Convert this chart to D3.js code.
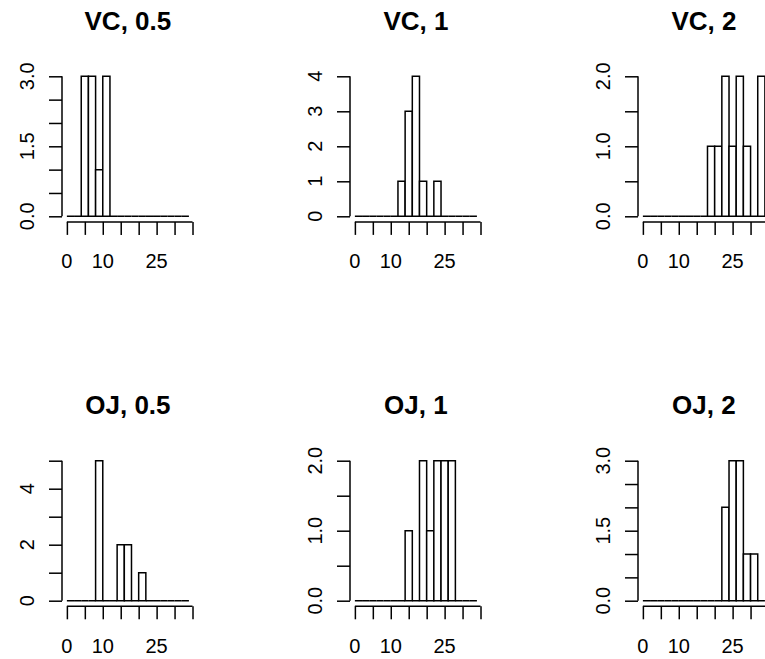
<!DOCTYPE html>
<html>
<head>
<meta charset="utf-8">
<script src="https://cdn.jsdelivr.net/npm/d3@7"></script>
<style>
  html, body { margin: 0; padding: 0; background: #fff; }
  svg { display: block; }
  text { font-family: "Liberation Sans", Arial, Helvetica, sans-serif; fill: #000; }
</style>
</head>
<body>
<script>
// ---- data ----
const breaks = [0, 2, 4, 6, 8, 10, 12, 14, 16, 18, 20, 22, 24, 26, 28, 30, 32, 34];
const panelTitles = ["VC, 0.5", "VC, 1", "VC, 2", "OJ, 0.5", "OJ, 1", "OJ, 2"];
const countsVC05 = [0, 0, 3, 3, 1, 3, 0, 0, 0, 0, 0, 0, 0, 0, 0, 0, 0];
const countsVC1  = [0, 0, 0, 0, 0, 0, 1, 3, 4, 1, 0, 1, 0, 0, 0, 0, 0];
const countsVC2  = [0, 0, 0, 0, 0, 0, 0, 0, 0, 1, 1, 2, 1, 2, 1, 0, 2];
const countsOJ05 = [0, 0, 0, 0, 5, 0, 0, 2, 2, 0, 1, 0, 0, 0, 0, 0, 0];
const countsOJ1  = [0, 0, 0, 0, 0, 0, 0, 1, 0, 2, 1, 2, 2, 2, 0, 0, 0];
const countsOJ2  = [0, 0, 0, 0, 0, 0, 0, 0, 0, 0, 0, 2, 3, 3, 1, 1, 0];
const xTicks = [0, 5, 10, 15, 20, 25, 30, 35];
const xTickLabels = ["0", "", "10", "", "", "25", "", ""];
const yTicksHalf3 = [0, 0.5, 1, 1.5, 2, 2.5, 3];
const yLabelsHalf3 = ["0.0", "", "", "1.5", "", "", "3.0"];
const yTicks4 = [0, 1, 2, 3, 4];
const yLabels4 = ["0", "1", "2", "3", "4"];
const yTicksHalf2 = [0, 0.5, 1, 1.5, 2];
const yLabelsHalf2 = ["0.0", "", "1.0", "", "2.0"];
const yTicks5 = [0, 1, 2, 3, 4, 5];
const yLabels5 = ["0", "", "2", "", "4", ""];

const panels = [
  { title: panelTitles[0], counts: countsVC05, ymax: 3, yt: yTicksHalf3, yl: yLabelsHalf3 },
  { title: panelTitles[1], counts: countsVC1,  ymax: 4, yt: yTicks4,     yl: yLabels4 },
  { title: panelTitles[2], counts: countsVC2,  ymax: 2, yt: yTicksHalf2, yl: yLabelsHalf2 },
  { title: panelTitles[3], counts: countsOJ05, ymax: 5, yt: yTicks5,     yl: yLabels5 },
  { title: panelTitles[4], counts: countsOJ1,  ymax: 2, yt: yTicksHalf2, yl: yLabelsHalf2 },
  { title: panelTitles[5], counts: countsOJ2,  ymax: 3, yt: yTicksHalf3, yl: yLabelsHalf3 }
];

// ---- layout ----
const W = 765, H = 659;
const colStep = 288, rowStep = 384.4;
const plotLeft0 = 62, plotTop0 = 70.7, plotW = 131.8, plotH = 151.2;
const lw = 1.5, tickLen = 13;
const tickFont = 20, titleFont = 26;

const svg = d3.select("body").append("svg").attr("width", W).attr("height", H);

panels.forEach((p, i) => {
  const col = i % 3, row = Math.floor(i / 3);
  const L = plotLeft0 + col * colStep;
  const T = plotTop0 + row * rowStep;
  const xr = breaks[breaks.length - 1] - breaks[0];
  const x = d3.scaleLinear()
    .domain([breaks[0] - 0.04 * xr, breaks[breaks.length - 1] + 0.04 * xr])
    .range([L, L + plotW]);
  const y = d3.scaleLinear()
    .domain([-0.04 * p.ymax, 1.04 * p.ymax])
    .range([T + plotH, T]);
  const g = svg.append("g");

  // bars
  const bins = p.counts.map((c, k) => ({ x0: breaks[k], x1: breaks[k + 1], c }));
  g.selectAll("path.bar").data(bins).enter().append("path")
    .attr("class", "bar")
    .attr("d", d => `M${x(d.x0)},${y(0)}V${y(d.c)}H${x(d.x1)}V${y(0)}Z`)
    .attr("fill", "#fff")
    .attr("stroke", "#000")
    .attr("stroke-width", lw);

  // x axis
  const xa = g.append("g").attr("transform", `translate(0,${T + plotH})`)
    .call(d3.axisBottom(x).tickValues(xTicks).tickSize(tickLen).tickFormat(() => ""));
  xa.select(".domain").attr("d", `M${x(xTicks[0])},0H${x(xTicks[xTicks.length - 1])}`)
    .attr("stroke-width", lw);
  xa.selectAll(".tick line").attr("stroke-width", lw);
  xa.selectAll(".tick text").remove();
  g.selectAll("text.xl").data(xTicks).enter().append("text")
    .attr("class", "xl")
    .attr("x", d => x(d))
    .attr("y", T + plotH + 46.5)
    .attr("text-anchor", "middle")
    .attr("font-size", tickFont)
    .text((d, k) => xTickLabels[k]);

  // y axis
  const ya = g.append("g").attr("transform", `translate(${L},0)`)
    .call(d3.axisLeft(y).tickValues(p.yt).tickSize(tickLen).tickFormat(() => ""));
  ya.select(".domain").attr("d", `M0,${y(0)}V${y(p.ymax)}`).attr("stroke-width", lw);
  ya.selectAll(".tick line").attr("stroke-width", lw);
  ya.selectAll(".tick text").remove();
  g.selectAll("text.yl").data(p.yt).enter().append("text")
    .attr("class", "yl")
    .attr("transform", d => `translate(${L - 28.5},${y(d)}) rotate(-90)`)
    .attr("text-anchor", "middle")
    .attr("font-size", tickFont)
    .text((d, k) => p.yl[k]);

  // title
  g.append("text")
    .attr("x", L + plotW / 2)
    .attr("y", 29.5 + row * rowStep)
    .attr("text-anchor", "middle")
    .attr("font-size", titleFont)
    .attr("font-weight", "bold")
    .text(p.title);
});
</script>
</body>
</html>
